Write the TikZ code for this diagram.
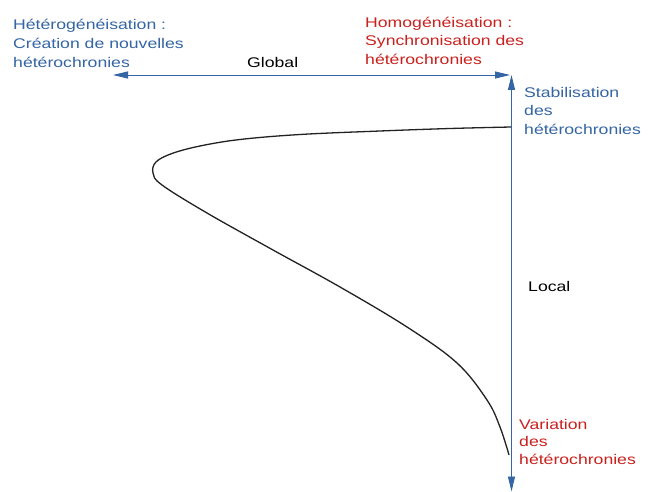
\documentclass[tikz,border=0pt]{standalone}
\usepackage{fontspec}
\setmainfont{Liberation Sans}[FakeStretch=1.26]
\usetikzlibrary{arrows.meta}
\definecolor{tblue}{HTML}{3465A4}
\definecolor{tred}{HTML}{C9211E}
\definecolor{curvecol}{HTML}{222222}
\begin{document}
\begin{tikzpicture}[x=1pt,y=-1pt,
  lbl/.style={anchor=base west, inner sep=0pt, align=left, font=\fontsize{14}{18.5}\selectfont},
  axis/.style={draw=tblue, line width=0.9pt, {Triangle[length=15pt,width=7pt,fill=tblue]}-{Triangle[length=15pt,width=7pt,fill=tblue]}},
  curve/.style={draw=curvecol, line width=1.3pt}
]
\path[fill=white, use as bounding box] (0,0) rectangle (649,492);

\coordinate (hL) at (113,75);
\coordinate (hR) at (510,75);
\coordinate (vT) at (511.5,75);
\coordinate (vB) at (511.5,491.5);
\draw[axis] (hL) -- (hR);
\draw[axis] (vT) -- (vB);

\draw[curve] plot[smooth, tension=0.6] coordinates {
 (511,127) (450,128.5) (380,131) (300,134.5) (240,139.5) (200,146) (172,153.5) (156,162) (153,173) (162,185) (207,213) (273,250) (340,287) (407,327) (457,363) (487,400) (500,427) (509,455)};

% base anchor of a multi-line node lies on its last line
\node[lbl, text=tblue, font=\fontsize{14}{19.2}\selectfont] (het) at (13,68) {Hétérogénéisation :\\Création de nouvelles\\hétérochronies};
\node[lbl] (glob) at (247,68) {Global};
\node[lbl, text=tred] (hom) at (365,64.5) {Homogénéisation :\\Synchronisation des\\hétérochronies};
\node[lbl, text=tblue, font=\fontsize{14}{18.3}\selectfont] (stab) at (524,134.3) {Stabilisation\\des\\hétérochronies};
\node[lbl] (loc) at (528,291.7) {Local};
\node[lbl, text=tred, font=\fontsize{14}{17.5}\selectfont] (var) at (519,464.3) {Variation\\des\\hétérochronies};
\end{tikzpicture}
\end{document}
